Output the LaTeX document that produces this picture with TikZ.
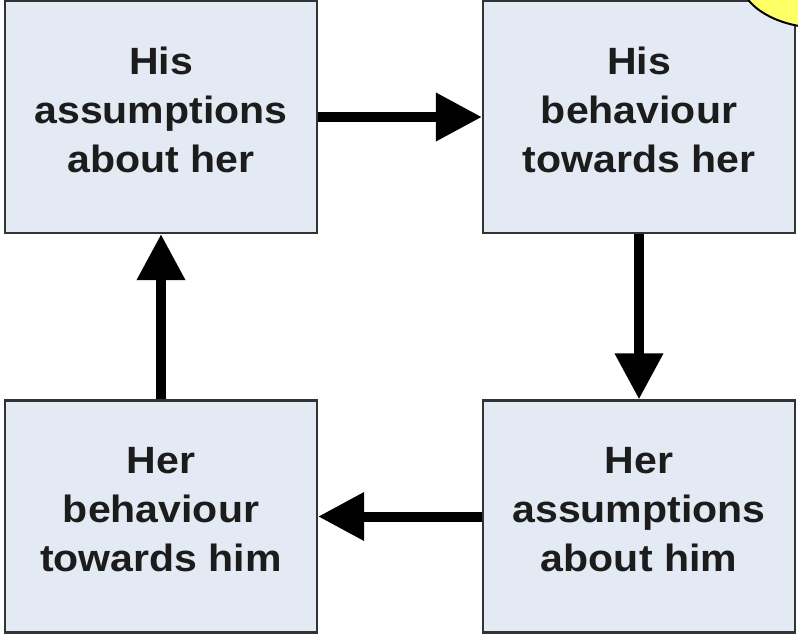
\documentclass[tikz,border=0pt]{standalone}
\usepackage{fontspec}
\setmainfont{Liberation Sans}
\newfontfamily\boxfont[FakeStretch=1.08]{Liberation Sans Bold}
\usetikzlibrary{arrows.meta}
\definecolor{boxfill}{HTML}{E4EAF4}
\definecolor{boxline}{HTML}{333333}
\definecolor{textdark}{HTML}{1C1C1C}
\definecolor{calloutfill}{HTML}{FFFF66}
\begin{document}
\begin{tikzpicture}[x=1pt,y=-1pt,
  stagebox/.style={rectangle, draw=boxline, fill=boxfill, line width=2.2pt,
    minimum width=312pt, minimum height=232pt, inner sep=0pt, align=center,
    text depth=15pt,
    text=textdark, font=\boxfont\fontsize{38pt}{49pt}\selectfont},
  flow/.style={line width=10pt, -{Triangle[length=46pt,width=46pt]}}]
  \useasboundingbox (0,0) rectangle (798,635);
  \fill[white] (0,0) rectangle (798,635);

  % the four stages of the cycle
  \node[stagebox] (hisassume) at (161,117) {His\\assumptions\\about her};
  \node[stagebox] (hisbehave) at (639,117) {His\\behaviour\\towards her};
  \node[stagebox] (herassume) at (639,516.5) {Her\\assumptions\\about him};
  \node[stagebox] (herbehave) at (161,516.5) {Her\\behaviour\\towards him};

  % connectors going round the cycle
  \draw[flow] (hisassume) -- (hisbehave);
  \draw[flow] (hisbehave) -- (herassume);
  \draw[flow] (herassume) -- (herbehave);
  \draw[flow] (herbehave) -- (hisassume);

  % edge of a callout bubble in the corner
  \begin{scope}
    \clip (0,0) rectangle (798,635);
    \draw[fill=calloutfill, line width=2pt] (822,-22) ellipse [x radius=82pt, y radius=50pt];
  \end{scope}
\end{tikzpicture}
\end{document}
